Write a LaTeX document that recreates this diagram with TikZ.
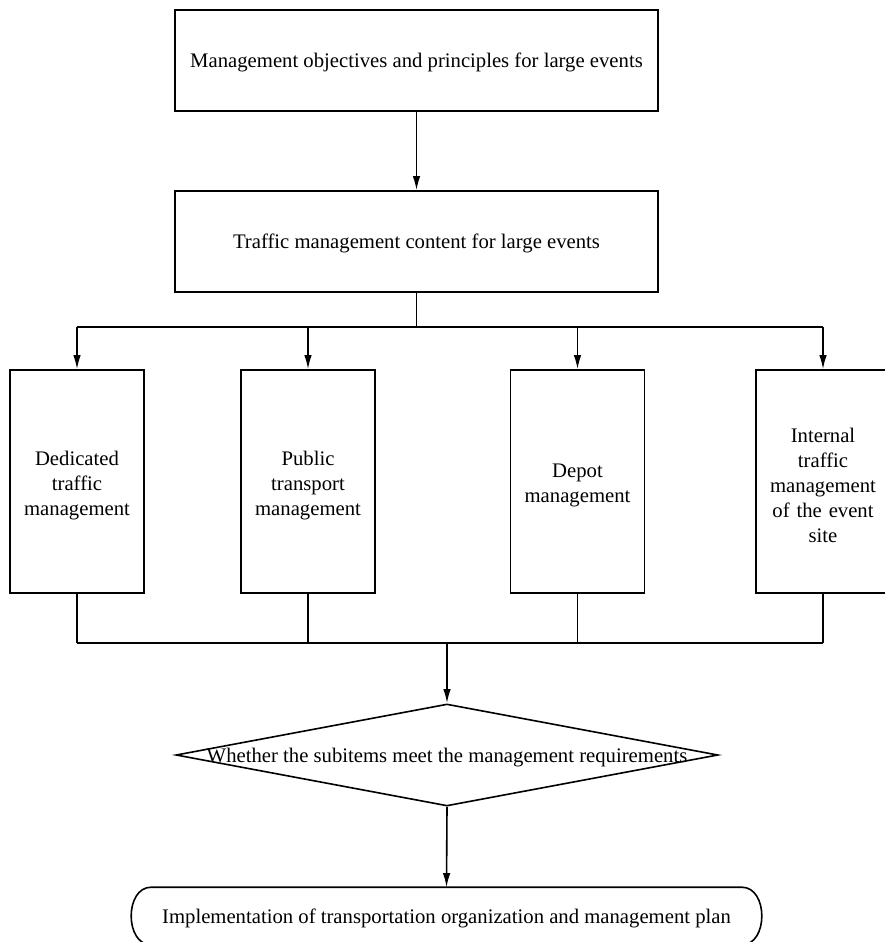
\documentclass[tikz,border=0pt]{standalone}
\usepackage{fontspec}
\setmainfont{Liberation Serif}
\usetikzlibrary{arrows.meta,shapes.geometric}
\begin{document}
\begin{tikzpicture}[x=1pt,y=-1pt,
  line width=1.6pt,
  every node/.style={font=\fontsize{20.7}{25}\selectfont, inner sep=0pt},
  oneline/.style={text depth=0pt},
  wide/.style={draw, rectangle, oneline, minimum width=483pt, minimum height=101pt},
  tall/.style={draw, rectangle, minimum width=134pt, minimum height=223pt,
    text width=130pt, align=center, text height=22pt},
  decision/.style={draw, diamond, minimum width=542pt, minimum height=102pt},
  terminal/.style={rectangle, oneline, minimum width=629pt, minimum height=56pt},
  arr/.style={-{Latex[length=14pt,width=7.5pt]}},
  link/.style={line width=1.6pt}
]
\useasboundingbox (0,0) rectangle (884,942);

% upper chain
\node[wide] (goal) at (416.5,60.5) {Management objectives and principles for large events};
\node[wide] (content) at (416.5,241.5) {Traffic management content for large events};

% four management areas
\node[tall] (b1) at (77,481.5) {Dedicated\\traffic\\management};
\node[tall] (b2) at (308,481.5) {Public\\transport\\management};
\node[tall] (b3) at (577.5,481.5) {Depot\\management};
\node[tall] (b4) at (823,481.5) {Internal\\traffic\\management\\of the event\\site};

% decision
\node[decision] (check) at (447,755) {};
\node[oneline] (checkt) at (check.center) {Whether the subitems meet the management requirements};

% end: a bar with flattened round ends
\node[terminal] (done) at (446.5,916) {Implementation of transportation organization and management plan};
\draw ([xshift=20pt]done.north west) -- ([xshift=-20pt]done.north east)
  .. controls +(26.7,0) and +(26.7,0) .. ([xshift=-20pt]done.south east)
  -- ([xshift=20pt]done.south west)
  .. controls +(-26.7,0) and +(-26.7,0) .. cycle;

% connectors
\draw[arr] (goal) -- (content);

\coordinate (split) at (content.south |- 0,327);
\draw[link] (content.south) -- (split);
\draw[link] (b1.north |- split) -- (b4.north |- split);
\foreach \b in {b1,b2,b3,b4}
  \draw[arr] (\b.north |- split) -- (\b.north);

\coordinate (merge) at (check.north |- 0,643);
\foreach \b in {b1,b2,b3,b4}
  \draw[link] (\b.south) -- (\b.south |- merge);
\draw[link] (b1.south |- merge) -- (b4.south |- merge);
\draw[arr] (merge) -- (check.north);
\draw[arr] (check.south) -- (done.north);
\end{tikzpicture}
\end{document}
